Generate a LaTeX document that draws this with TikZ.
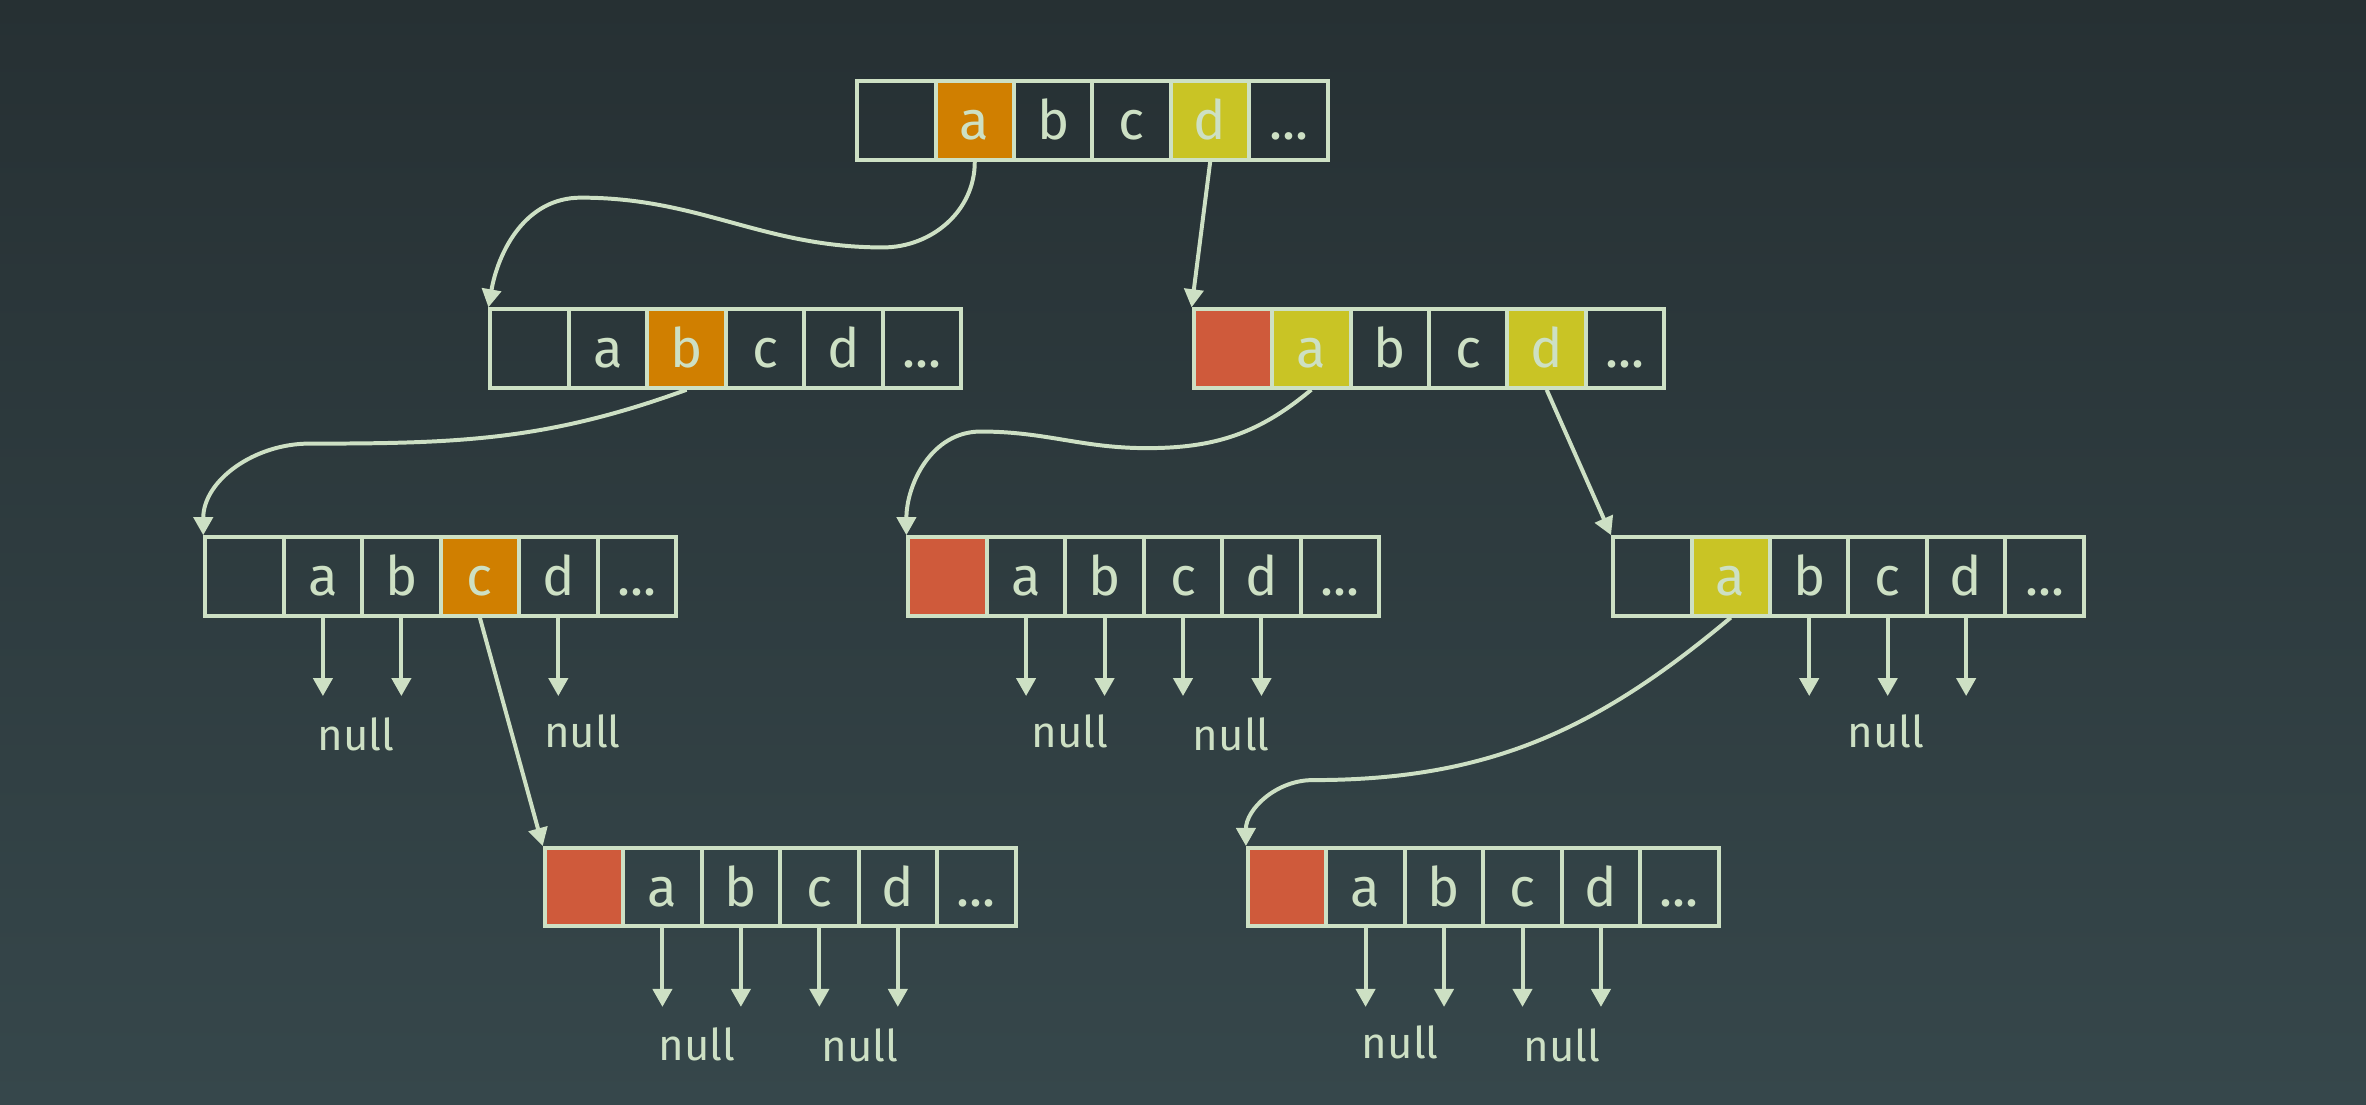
\documentclass[tikz,border=0pt]{standalone}
\usepackage{fontspec}
\setmainfont{Fira Sans}
\usetikzlibrary{arrows.meta}
\definecolor{bgtop}{HTML}{263033}
\definecolor{bgbot}{HTML}{36474B}
\definecolor{pale}{HTML}{CDE0C4}
\definecolor{orng}{HTML}{D07F00}
\definecolor{yell}{HTML}{C9C425}
\definecolor{redc}{HTML}{CF5A3B}
\begin{document}
\begin{tikzpicture}[x=0.02cm,y=0.02cm,
  cell/.style={draw=pale, line width=1.5pt, minimum size=1.04cm, inner sep=0pt, text=pale, font=\fontsize{20.5}{20.5}\selectfont, text height=14.5pt, text depth=0pt},
  link/.style={draw=pale, line width=1.5pt, -{Triangle[width=7.2pt,length=6.8pt]}},
  nul/.style={text=pale, font=\fontsize{16.5}{16.5}\selectfont}]
       \shade[top color=bgtop, bottom color=bgbot] (0,0) rectangle (1568,732);
       \node[cell] (p0) at (594,652) {};
       \node[cell, fill=orng] (p1) at (646,652) {a};
       \node[cell] (p2) at (698,652) {b};
       \node[cell] (p3) at (750,652) {c};
       \node[cell, fill=yell] (p4) at (802,652) {d};
       \node[cell] (p5) at (854,652) {...};
       \node[cell] (q0) at (351,501) {};
       \node[cell] (q1) at (403,501) {a};
       \node[cell, fill=orng] (q2) at (455,501) {b};
       \node[cell] (q3) at (507,501) {c};
       \node[cell] (q4) at (559,501) {d};
       \node[cell] (q5) at (611,501) {...};
       \node[cell, fill=redc] (r0) at (817,501) {};
       \node[cell, fill=yell] (r1) at (869,501) {a};
       \node[cell] (r2) at (921,501) {b};
       \node[cell] (r3) at (973,501) {c};
       \node[cell, fill=yell] (r4) at (1025,501) {d};
       \node[cell] (r5) at (1077,501) {...};
       \node[cell] (s0) at (162,350) {};
       \node[cell] (s1) at (214,350) {a};
       \node[cell] (s2) at (266,350) {b};
       \node[cell, fill=orng] (s3) at (318,350) {c};
       \node[cell] (s4) at (370,350) {d};
       \node[cell] (s5) at (422,350) {...};
       \node[cell, fill=redc] (t0) at (628,350) {};
       \node[cell] (t1) at (680,350) {a};
       \node[cell] (t2) at (732,350) {b};
       \node[cell] (t3) at (784,350) {c};
       \node[cell] (t4) at (836,350) {d};
       \node[cell] (t5) at (888,350) {...};
       \node[cell] (u0) at (1095,350) {};
       \node[cell, fill=yell] (u1) at (1147,350) {a};
       \node[cell] (u2) at (1199,350) {b};
       \node[cell] (u3) at (1251,350) {c};
       \node[cell] (u4) at (1303,350) {d};
       \node[cell] (u5) at (1355,350) {...};
       \node[cell, fill=redc] (v0) at (387,144) {};
       \node[cell] (v1) at (439,144) {a};
       \node[cell] (v2) at (491,144) {b};
       \node[cell] (v3) at (543,144) {c};
       \node[cell] (v4) at (595,144) {d};
       \node[cell] (v5) at (647,144) {...};
       \node[cell, fill=redc] (w0) at (853,144) {};
       \node[cell] (w1) at (905,144) {a};
       \node[cell] (w2) at (957,144) {b};
       \node[cell] (w3) at (1009,144) {c};
       \node[cell] (w4) at (1061,144) {d};
       \node[cell] (w5) at (1113,144) {...};
       \draw[link] (p1.south) to[out=-90,in=0] (585,568) to[out=180,in=0] (385,601) to[out=180,in=80] (q0.north west);
       \draw[link] (p4.south) -- (r0.north west);
       \draw[link] (q2.south) to[out=-160,in=0] (205,438) to[out=180,in=90] (s0.north west);
       \draw[link] (r1.south) to[out=-140,in=0] (760,435) to[out=180,in=0] (650,446) to[out=180,in=90] (t0.north west);
       \draw[link] (r4.south) -- (u0.north west);
       \draw[link] (s3.south) -- (v0.north west);
       \draw[link] (u1.south) to[out=-140,in=0] (870,215) to[out=180,in=90] (w0.north west);
       \draw[link] (s1.south) -- ++(0,-52);
       \draw[link] (s2.south) -- ++(0,-52);
       \draw[link] (s4.south) -- ++(0,-52);
       \draw[link] (t1.south) -- ++(0,-52);
       \draw[link] (t2.south) -- ++(0,-52);
       \draw[link] (t3.south) -- ++(0,-52);
       \draw[link] (t4.south) -- ++(0,-52);
       \draw[link] (u2.south) -- ++(0,-52);
       \draw[link] (u3.south) -- ++(0,-52);
       \draw[link] (u4.south) -- ++(0,-52);
       \draw[link] (v1.south) -- ++(0,-52);
       \draw[link] (v2.south) -- ++(0,-52);
       \draw[link] (v3.south) -- ++(0,-52);
       \draw[link] (v4.south) -- ++(0,-52);
       \draw[link] (w1.south) -- ++(0,-52);
       \draw[link] (w2.south) -- ++(0,-52);
       \draw[link] (w3.south) -- ++(0,-52);
       \draw[link] (w4.south) -- ++(0,-52);
       \node[nul] (n1) at (236,245) {null};
       \node[nul] (n2) at (386,247) {null};
       \node[nul] (n3) at (709,247) {null};
       \node[nul] (n4) at (816,245) {null};
       \node[nul] (n5) at (1250,247) {null};
       \node[nul] (n6) at (462,40) {null};
       \node[nul] (n7) at (570,39) {null};
       \node[nul] (n8) at (928,41) {null};
       \node[nul] (n9) at (1035,39) {null};
      \end{tikzpicture}
\end{document}
